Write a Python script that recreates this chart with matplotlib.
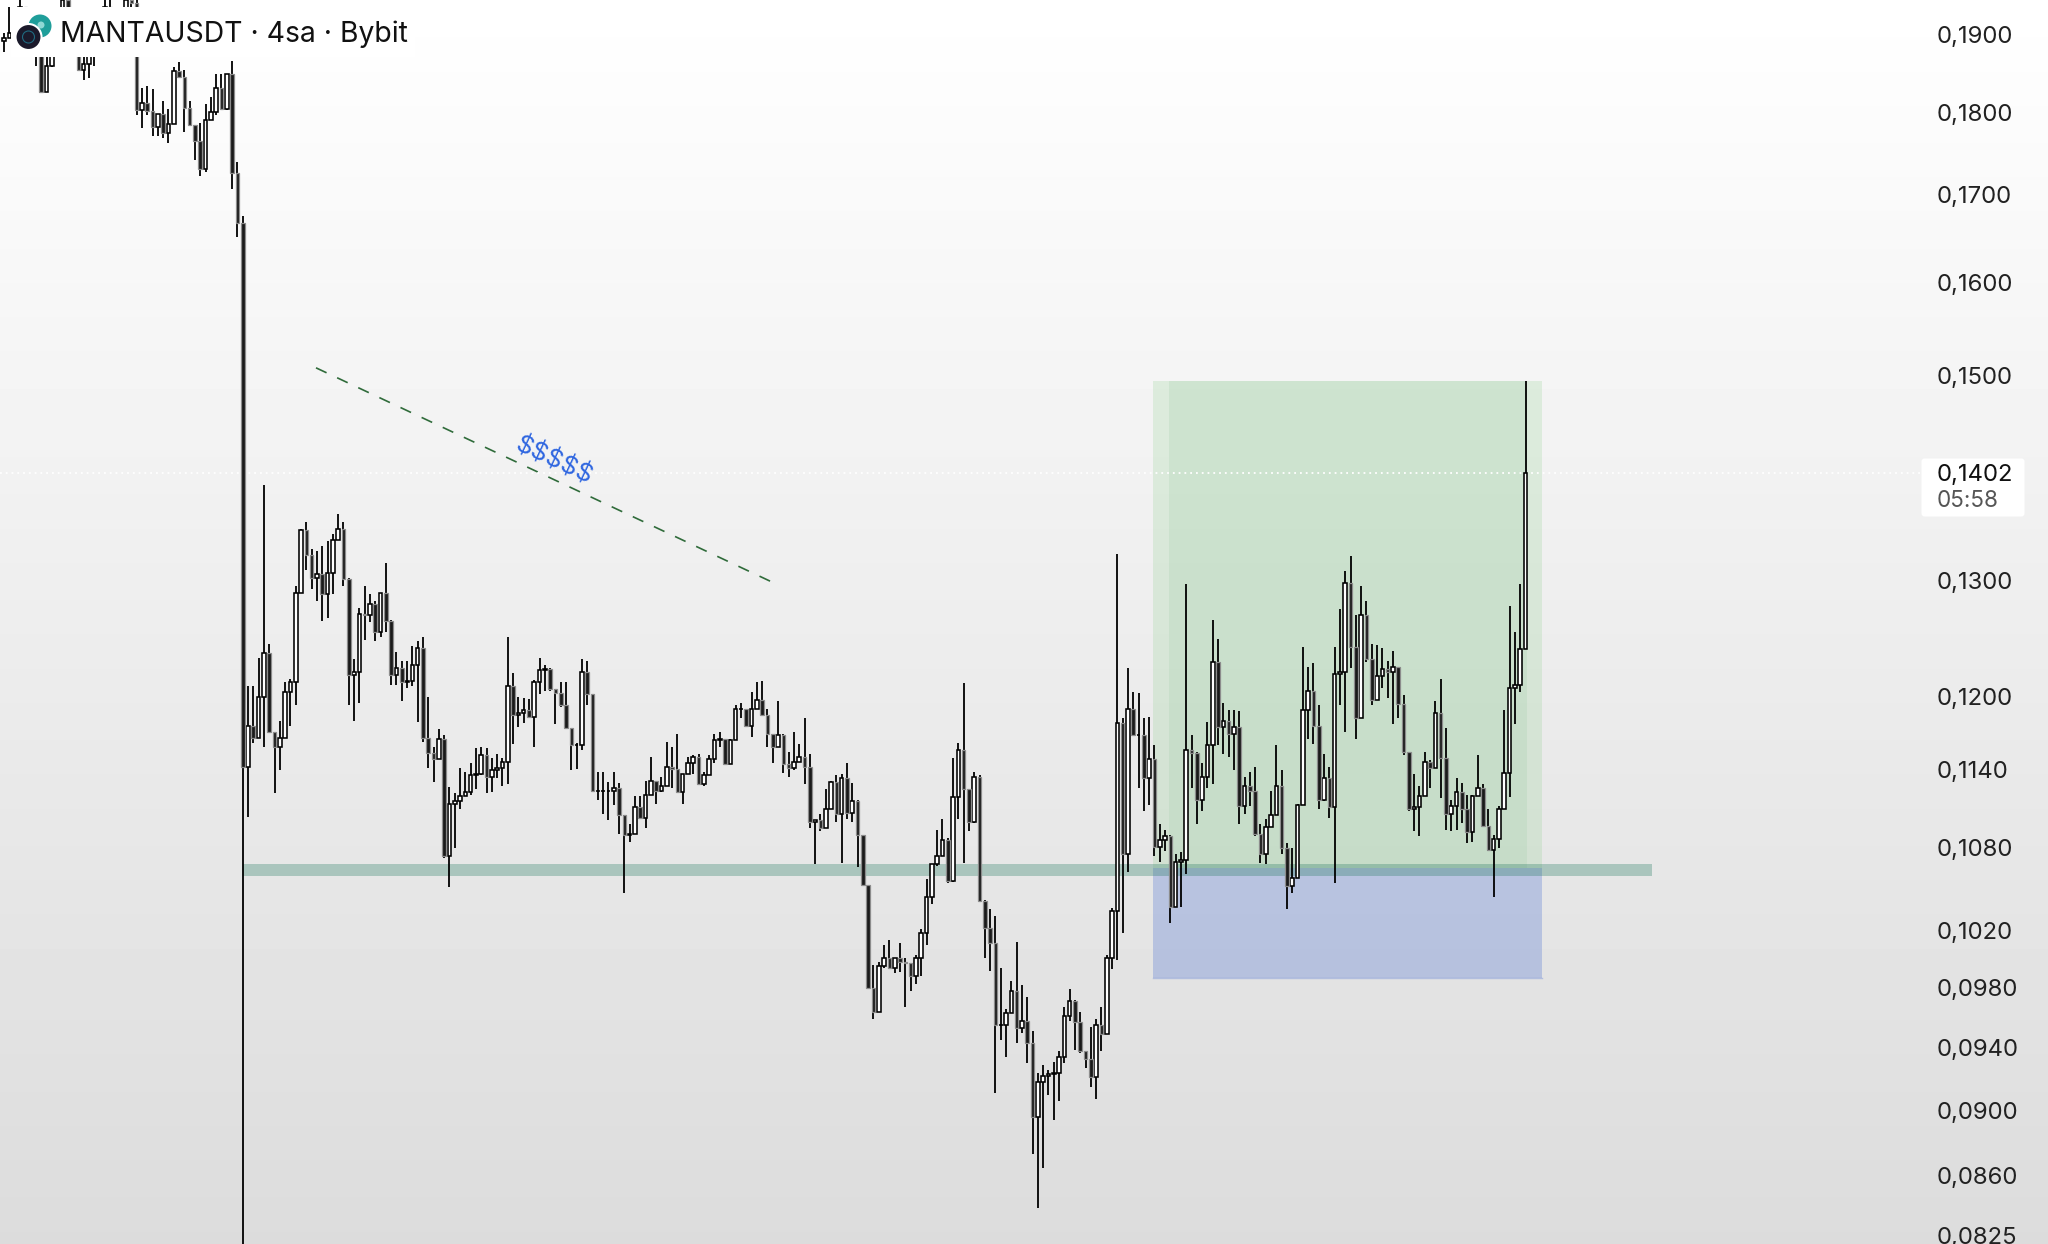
import numpy as np
import matplotlib
matplotlib.use('Agg')
import matplotlib.pyplot as plt
from matplotlib.patches import Circle, FancyBboxPatch, Rectangle

firstOpen = 0.1892

closes = [
    .1896,.1903,.1929,.1938,.1921,.1907,.1874,.1827,.1860,.1880,.1898,.1947,.1934,.1921,.1855,.1862,.1874,.1894,.1921,.1938,.1925,.1907,.1921,.1947,.1943,.1804,
    .1813,.1803,.1783,.1799,.1775,.1787,.1853,.1846,.1807,.1785,.1765,.1732,.1791,.1802,.1832,.1805,.1850,.1727,.1668,.1143,
    .1176,.1166,.1200,.1237,.1171,.1159,.1166,.1204,.1212,.1290,.1347,.1324,.1303,.1307,.1289,.1308,.1338,.1348,.1302,.1218,
    .1221,.1271,.1270,.1280,.1255,.1290,.1265,.1218,.1224,.1212,.1213,.1227,.1241,.1166,.1154,.1149,.1165,.1074,.1114,.1116,
    .1120,.1123,.1136,.1137,.1152,.1135,.1140,.1142,.1147,.1209,.1185,.1186,.1189,.1183,.1212,.1222,.1223,.1206,.1203,.1193,
    .1174,.1160,.1160,.1221,.1202,.1124,.1124,.1124,.1124,.1126,.1105,.1090,.1091,
    .1111,.1103,.1121,.1132,.1124,.1128,.1143,.1141,.1123,.1137,.1146,.1151,.1129,.1136,.1149,.1164,.1165,.1145,.1164,.1190,
    .1190,.1176,.1190,.1197,.1185,.1169,.1159,.1168,.1145,.1142,.1147,.1151,.1143,.1100,.1101,.1095,.1110,.1131,.1106,.1134,
    .1107,.1116,.1090,.1053,.0980,.0964,.0995,.1001,.0994,.1001,.0998,.0997,.0988,.1001,.1018,.1044,.1068,.1074,.1086,.1056,
    .1119,.1156,.1125,.1100,.1135,.1041,
    .1022,.1011,.0955,.0955,.0963,.0978,.0953,.0958,.0943,.0896,.0918,.0922,.0923,.0924,.0934,.0961,.0971,.0957,.0938,.0933,
    .0921,.0955,.0949,.1001,.1034,
    .1178,.1076,.1190,.1168,.1168,.1134,.1149,.1081,.1086,.1089,.1037,.1070,.1071,.1156,.1154,.1117,.1135,.1160,.1229,.1175,
    .1180,.1169,.1175,.1112,.1128,.1124,.1091,.1076,.1096,.1105,.1128,.1080,.1052,.1058,.1113,.1189,.1205,.1176,.1117,.1134,
    .1111,.1219,.1221,.1299,.1242,.1182,.1270,.1232,.1197,.1217,.1223,.1221,.1225,.1194,.1155,.1110,.1111,.1120,.1147,.1142,
    .1186,.1150,.1106,.1112,.1123,.1110,.1092,.1120,.1126,.1097,.1079,.1087,.1110,.1138,.1207,.1210,.1240,.1402,
]
highs = [
    .1903,.1938,.1934,.1952,.1938,.1925,.1921,.1903,.1903,.1921,.1921,.1952,.1952,.1934,.1929,.1903,.1903,.1921,.1934,.1952,.1947,.1929,.1934,.1952,.1952,.1952,
    .1832,.1834,.1830,.1799,.1815,.1805,.1858,.1865,.1855,.1815,.1785,.1788,.1812,.1820,.1850,.1850,.1850,.1866,.1740,.1676,
    .1209,.1209,.1233,.1390,.1245,.1171,.1180,.1212,.1215,.1296,.1348,.1355,.1330,.1328,.1332,.1337,.1344,.1362,.1355,.1303,
    .1232,.1276,.1296,.1289,.1282,.1290,.1317,.1266,.1238,.1230,.1230,.1243,.1247,.1251,.1200,.1159,.1173,.1168,.1127,.1122,
    .1142,.1139,.1146,.1158,.1159,.1158,.1150,.1153,.1150,.1251,.1220,.1200,.1199,.1198,.1214,.1233,.1227,.1224,.1206,.1212,
    .1212,.1173,.1162,.1232,.1230,.1202,.1139,.1139,.1131,.1139,.1130,.1105,.1098,
    .1120,.1120,.1132,.1151,.1132,.1135,.1163,.1159,.1169,.1137,.1151,.1152,.1153,.1139,.1152,.1169,.1171,.1165,.1165,.1193,
    .1195,.1190,.1204,.1212,.1213,.1190,.1169,.1196,.1169,.1155,.1171,.1161,.1182,.1153,.1101,.1106,.1125,.1132,.1136,.1137,
    .1146,.1130,.1117,.1090,.1053,.0996,.0998,.1010,.1013,.1001,.1011,.1001,.0995,.1003,.1021,.1057,.1068,.1094,.1102,.1088,
    .1150,.1162,.1211,.1125,.1139,.1136,
    .1042,.1035,.1030,.0994,.0966,.0985,.1012,.0982,.0974,.0951,.0924,.0929,.0926,.0931,.0938,.0967,.0979,.0972,.0964,.0938,
    .0954,.0959,.0967,.1003,.1036,
    .1325,.1182,.1224,.1204,.1203,.1182,.1183,.1160,.1098,.1094,.1090,.1076,.1077,.1298,.1168,.1155,.1146,.1179,.1266,.1249,
    .1195,.1189,.1189,.1188,.1135,.1139,.1143,.1098,.1102,.1124,.1160,.1140,.1084,.1080,.1114,.1242,.1225,.1228,.1193,.1153,
    .1143,.1242,.1275,.1309,.1323,.1270,.1296,.1282,.1245,.1244,.1241,.1230,.1239,.1225,.1201,.1155,.1137,.1128,.1155,.1148,
    .1196,.1215,.1174,.1117,.1134,.1130,.1121,.1121,.1152,.1129,.1110,.1090,.1112,.1189,.1278,.1255,.1298,.1494,
]
lows = [
    .1878,.1896,.1903,.1912,.1898,.1889,.1860,.1825,.1827,.1859,.1880,.1889,.1921,.1907,.1855,.1842,.1845,.1860,.1898,.1916,.1909,.1894,.1903,.1916,.1934,.1798,
    .1781,.1798,.1771,.1771,.1769,.1763,.1787,.1845,.1777,.1785,.1742,.1723,.1728,.1791,.1798,.1805,.1804,.1708,.1652,.0780,
    .1104,.1162,.1166,.1159,.1171,.1122,.1140,.1166,.1176,.1193,.1290,.1310,.1293,.1282,.1265,.1267,.1289,.1338,.1296,.1193,
    .1180,.1195,.1248,.1264,.1247,.1251,.1255,.1210,.1210,.1196,.1207,.1209,.1179,.1163,.1142,.1131,.1149,.1073,.1051,.1080,
    .1110,.1120,.1121,.1125,.1136,.1122,.1123,.1134,.1128,.1129,.1161,.1175,.1178,.1182,.1159,.1202,.1205,.1205,.1177,.1191,
    .1173,.1140,.1141,.1156,.1193,.1123,.1117,.1106,.1101,.1113,.1091,.1047,.1085,
    .1091,.1103,.1095,.1121,.1114,.1123,.1128,.1126,.1123,.1114,.1137,.1137,.1129,.1128,.1136,.1146,.1159,.1144,.1145,.1164,
    .1182,.1176,.1167,.1190,.1184,.1159,.1146,.1159,.1138,.1135,.1140,.1147,.1129,.1095,.1068,.1093,.1095,.1110,.1100,.1069,
    .1102,.1100,.1066,.1052,.0980,.0959,.0964,.0994,.0994,.0990,.0991,.0967,.0978,.0983,.0988,.1010,.1039,.1067,.1074,.1054,
    .1055,.1102,.1069,.1093,.1099,.1041,
    .1001,.0992,.0911,.0945,.0934,.0963,.0943,.0950,.0930,.0873,.0841,.0865,.0910,.0894,.0906,.0930,.0958,.0939,.0937,.0927,
    .0915,.0907,.0938,.0949,.0993,
    .0999,.1018,.1062,.1168,.1126,.1108,.1113,.1074,.1070,.1078,.1025,.1037,.1037,.1061,.1126,.1098,.1108,.1126,.1129,.1160,
    .1153,.1151,.1140,.1098,.1106,.1112,.1089,.1069,.1068,.1096,.1105,.1076,.1035,.1047,.1058,.1113,.1165,.1161,.1110,.1116,
    .1103,.1054,.1193,.1171,.1224,.1165,.1182,.1229,.1193,.1197,.1207,.1199,.1177,.1182,.1152,.1108,.1093,.1089,.1120,.1126,
    .1142,.1118,.1094,.1093,.1094,.1099,.1084,.1085,.1120,.1097,.1078,.1044,.1080,.1110,.1119,.1177,.1204,.1240,
]

priceTicks = [0.19, 0.18, 0.17, 0.16, 0.15, 0.13, 0.12, 0.114, 0.108, 0.102, 0.098, 0.094, 0.09, 0.086, 0.0825]
lastPrice = 0.1402
countdown = '05:58'
title = 'MANTAUSDT · 4sa · Bybit'

trendPrices = [0.1508, 0.1299]
bandPrices = [0.1059, 0.1068]
targetPrice = 0.1494
entryPrice = 0.1065
stopPrice = 0.0987

W, H = 2048, 1244
fontName = 'Inter'

closes = np.array(closes)
highs = np.array(highs)
lows = np.array(lows)
opens = np.concatenate([[firstOpen], closes[:-1]])
idx = np.arange(len(closes))

# the big drop candle (45) and the last candle sit at these pixels
dropIdx = 45
step = (1525.5 - 242.7) / (len(closes) - 1 - dropIdx)

def toIdx(px):
    return dropIdx + (px - 242.7) / step

def priceLabel(p):
    return f'{p:.4f}'.replace('.', ',')

fig = plt.figure(figsize=(W / 100, H / 100), dpi=100)

bg = fig.add_axes([0, 0, 1, 1], zorder=0)
bg.imshow(np.linspace(1.0, 0.862, 400).reshape(-1, 1), cmap='gray', vmin=0, vmax=1, aspect='auto')
bg.axis('off')

ax = fig.add_axes([0, 0, 1, 1], zorder=1)
ax.patch.set_alpha(0)
ax.set_yscale('log')
ax.set_xlim(toIdx(0), toIdx(W))
ax.set_ylim(0.08203, 0.19472)
ax.axis('off')

# position drawing
left, right = toIdx(1153), toIdx(1542)
inL, inR = toIdx(1169), toIdx(1527)
ax.add_patch(Rectangle((left, entryPrice), right - left, targetPrice - entryPrice, fc=(128/255, 203/255, 128/255, .2), ec='none', zorder=1))
ax.add_patch(Rectangle((inL, entryPrice), inR - inL, targetPrice - entryPrice, fc=(164/255, 207/255, 172/255, .25), ec='none', zorder=1))
ax.add_patch(Rectangle((left, stopPrice), right - left, entryPrice - stopPrice, fc=(67/255, 105/255, 210/255, .28), ec='none', zorder=1))
ax.plot([left, right], [stopPrice, stopPrice], color=(67/255, 105/255, 210/255, .3), lw=1, zorder=1)

ax.add_patch(Rectangle((toIdx(243), bandPrices[0]), toIdx(1652) - toIdx(243), bandPrices[1] - bandPrices[0],
                       fc=(43/255, 126/255, 103/255, .32), ec='none', zorder=2))

ax.plot([toIdx(316), toIdx(773)], trendPrices, color='#2f6b3a', lw=1.2, ls=(0, (7, 7)), zorder=2)
ax.text(toIdx(554), 0.1414, '$$$$$', color='#2f66e0', fontsize=18.5, rotation=-25, ha='center', va='center',
        rotation_mode='anchor', family=fontName, zorder=5)

ax.plot([toIdx(0), toIdx(1921)], [lastPrice, lastPrice], color='white', lw=1.3, ls=(0, (1, 2.2)), zorder=2)

# candles
up = closes >= opens
ax.vlines(idx, lows, highs, color='black', lw=1.3, zorder=3)
ax.bar(idx[up], (closes - opens)[up], bottom=opens[up], width=0.68, fc='white', ec='black', lw=1.15, zorder=4)
ax.bar(idx[~up], (opens - closes)[~up], bottom=closes[~up], width=0.68, fc='#1a1a1a', ec='#8c8c8c', lw=0.9, zorder=4)

for p in priceTicks:
    ax.annotate(priceLabel(p), (toIdx(1937), p), xytext=(0, -1.5), textcoords='offset points', fontsize=17.2,
                color='#222222', ha='left', va='center', family=fontName, zorder=6)

# overlay in pixel coordinates for the header and price label
ui = fig.add_axes([0, 0, 1, 1], zorder=2)
ui.set_xlim(0, W)
ui.set_ylim(H, 0)
ui.axis('off')

ui.add_patch(Rectangle((11, 7), 404, 50, fc='white', ec='none'))
ui.add_patch(Circle((40, 26), 11.5, fc='#1f9e9a', ec='none'))
ui.add_patch(Circle((41, 25), 3.5, fc='#8fd8d4', ec='none'))
ui.add_patch(Circle((28.5, 37), 13, fc='#1b1a2b', ec='white', lw=1.5))
ui.add_patch(Circle((28.5, 37), 6, fc='none', ec='#1f6a80', lw=0.8))
ui.text(60, 42, title, fontsize=20.4, color='#111111', ha='left', va='baseline', family=fontName)

ui.add_patch(FancyBboxPatch((1923, 460), 100, 55, boxstyle='round,pad=1.5,rounding_size=3', fc='white', ec='none'))
ui.text(1937, 475, priceLabel(lastPrice), fontsize=17.2, color='#111111', ha='left', va='center', family=fontName)
ui.text(1937, 501, countdown, fontsize=16.2, color='#555555', ha='left', va='center', family=fontName)

fig.savefig('out.png', dpi=100)
